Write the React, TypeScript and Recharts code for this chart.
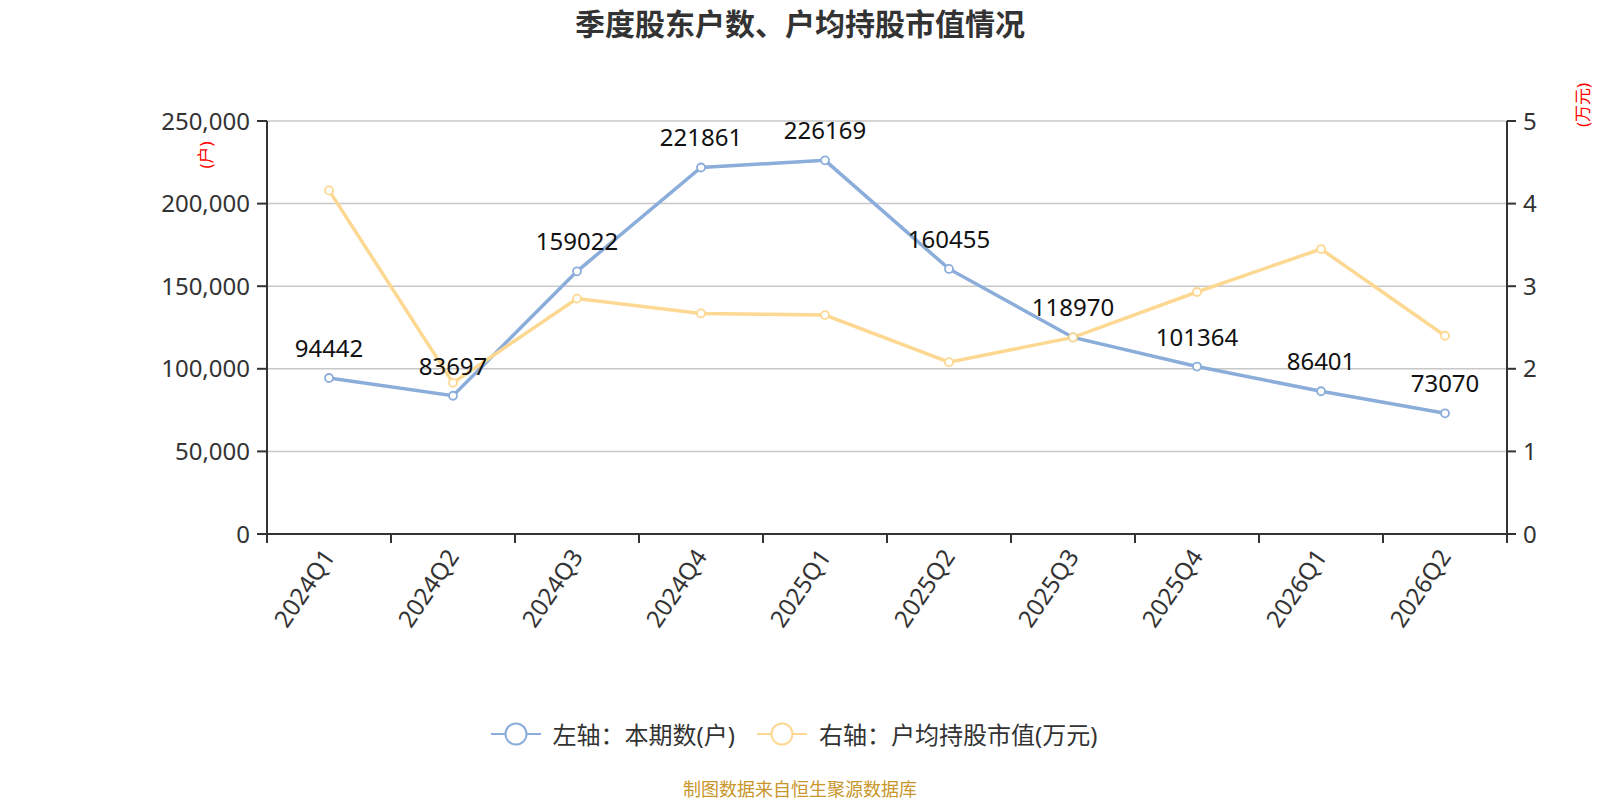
import React from 'react'
import { LineChart, Line, XAxis, YAxis, CartesianGrid, Legend, LabelList } from 'recharts'

/* ── Data ── */

const QUARTERS = ['2024Q1', '2024Q2', '2024Q3', '2024Q4', '2025Q1', '2025Q2', '2025Q3', '2025Q4', '2026Q1', '2026Q2']
const HOLDERS = [94442, 83697, 159022, 221861, 226169, 160455, 118970, 101364, 86401, 73070]
const AVG_VALUE = [4.16, 1.83, 2.85, 2.67, 2.65, 2.08, 2.38, 2.93, 3.45, 2.4]
const LEFT_TICKS = [0, 50000, 100000, 150000, 200000, 250000]
const RIGHT_TICKS = [0, 1, 2, 3, 4, 5]

const data = QUARTERS.map((q, i) => ({ quarter: q, holders: HOLDERS[i], avg: AVG_VALUE[i] }))

/* ── Styles ── */

const FONT = '"Noto Sans", "Noto Sans CJK SC", sans-serif'
const BLUE = '#8badda'
const YELLOW = '#fdd892'
const AXIS = '#333'

const TICK_STYLE = { fill: '#333', fontSize: 24, fontFamily: FONT }

function QuarterTick(props: any) {
  const { x, y, payload, index, visibleTicksCount } = props
  const half = payload.offset ?? 62
  const axisY = y - 8
  return (
    <g>
      <line x1={x - half} x2={x - half} y1={axisY} y2={axisY + 9} stroke={AXIS} strokeWidth={2} />
      {index === visibleTicksCount - 1 && (
        <line x1={x + half} x2={x + half} y1={axisY} y2={axisY + 9} stroke={AXIS} strokeWidth={2} />
      )}
      <g transform={`translate(${x},${axisY + 18}) rotate(-56)`}>
        <text textAnchor="end" dy="0.35em" fill="#333" fontSize={24} fontFamily={FONT}>
          {payload.value}
        </text>
      </g>
    </g>
  )
}

function HolderLabel(props: any) {
  const { x, y, value } = props
  return (
    <text x={x} y={y - 21} textAnchor="middle" fill="#111" fontSize={24} fontFamily={FONT}>
      {value}
    </text>
  )
}

function LegendContent() {
  const items = [
    { name: '左轴：本期数(户)', color: BLUE },
    { name: '右轴：户均持股市值(万元)', color: YELLOW },
  ]
  return (
    <div style={{ display: 'flex', justifyContent: 'center', alignItems: 'center', gap: 22, fontFamily: FONT }}>
      {items.map(it => (
        <div key={it.name} style={{ display: 'flex', alignItems: 'center' }}>
          <svg width={50} height={26}>
            <line x1={0} x2={50} y1={13} y2={13} stroke={it.color} strokeWidth={2} />
            <circle cx={25} cy={13} r={10.5} fill="#fff" stroke={it.color} strokeWidth={2} />
          </svg>
          <span style={{ marginLeft: 12, fontSize: 24, color: '#333' }}>{it.name}</span>
        </div>
      ))}
    </div>
  )
}

const axisName = (text: string, cx: number, cy: number) => () => (
  <text
    transform={`translate(${cx},${cy}) rotate(-90)`}
    textAnchor="middle"
    dominantBaseline="central"
    fill="#ff0000"
    fontSize={17}
    fontFamily={FONT}
  >
    {text}
  </text>
)

export default function App() {
  return (
    <div style={{ position: 'absolute', left: 0, top: 0, width: 1600, height: 800, background: '#fff', fontFamily: FONT, overflow: 'hidden' }}>
      <div style={{ position: 'absolute', top: 0, left: 0, width: 1600, lineHeight: '48px', textAlign: 'center', fontSize: 30, fontWeight: 'bold', color: '#333' }}>
        季度股东户数、户均持股市值情况
      </div>
      <LineChart width={1600} height={800} data={data} margin={{ top: 121, left: 167, right: 13, bottom: 146 }}>
        <CartesianGrid vertical={false} stroke="#c8c8c8" strokeWidth={1.5} yAxisId="left" />
        <XAxis
          dataKey="quarter"
          scale="band"
          height={120}
          interval={0}
          tickLine={false}
          axisLine={{ stroke: AXIS, strokeWidth: 2 }}
          tick={<QuarterTick />}
        />
        <YAxis
          yAxisId="left"
          width={100}
          domain={[0, 250000]}
          ticks={LEFT_TICKS}
          tickFormatter={(v: number) => v.toLocaleString('en-US')}
          tick={TICK_STYLE}
          tickSize={10}
          tickMargin={7}
          axisLine={{ stroke: AXIS, strokeWidth: 2 }}
          tickLine={{ stroke: AXIS, strokeWidth: 2 }}
          label={{ content: axisName('(户)', 205, 155) }}
        />
        <YAxis
          yAxisId="right"
          orientation="right"
          width={80}
          domain={[0, 5]}
          ticks={RIGHT_TICKS}
          tick={TICK_STYLE}
          tickSize={9}
          tickMargin={7}
          axisLine={{ stroke: AXIS, strokeWidth: 2 }}
          tickLine={{ stroke: AXIS, strokeWidth: 2 }}
          label={{ content: axisName('(万元)', 1582, 105) }}
        />
        <Legend
          verticalAlign="middle"
          align="center"
          layout="horizontal"
          content={<LegendContent />}
          wrapperStyle={{ top: 716, left: -6, width: 1600 }}
        />
        <Line
          yAxisId="left"
          dataKey="holders"
          stroke={BLUE}
          strokeWidth={3.5}
          dot={{ r: 4, fill: '#fff', stroke: BLUE, strokeWidth: 1.8 }}
          activeDot={false}
          isAnimationActive={false}
        >
          <LabelList dataKey="holders" content={<HolderLabel />} />
        </Line>
        <Line
          yAxisId="right"
          dataKey="avg"
          stroke={YELLOW}
          strokeWidth={3.5}
          dot={{ r: 4, fill: '#fff', stroke: YELLOW, strokeWidth: 1.8 }}
          activeDot={false}
          isAnimationActive={false}
        />
      </LineChart>
      <div style={{ position: 'absolute', top: 778, left: 0, width: 1600, lineHeight: '22px', textAlign: 'center', fontSize: 18, color: '#c8962a' }}>
        制图数据来自恒生聚源数据库
      </div>
    </div>
  )
}
